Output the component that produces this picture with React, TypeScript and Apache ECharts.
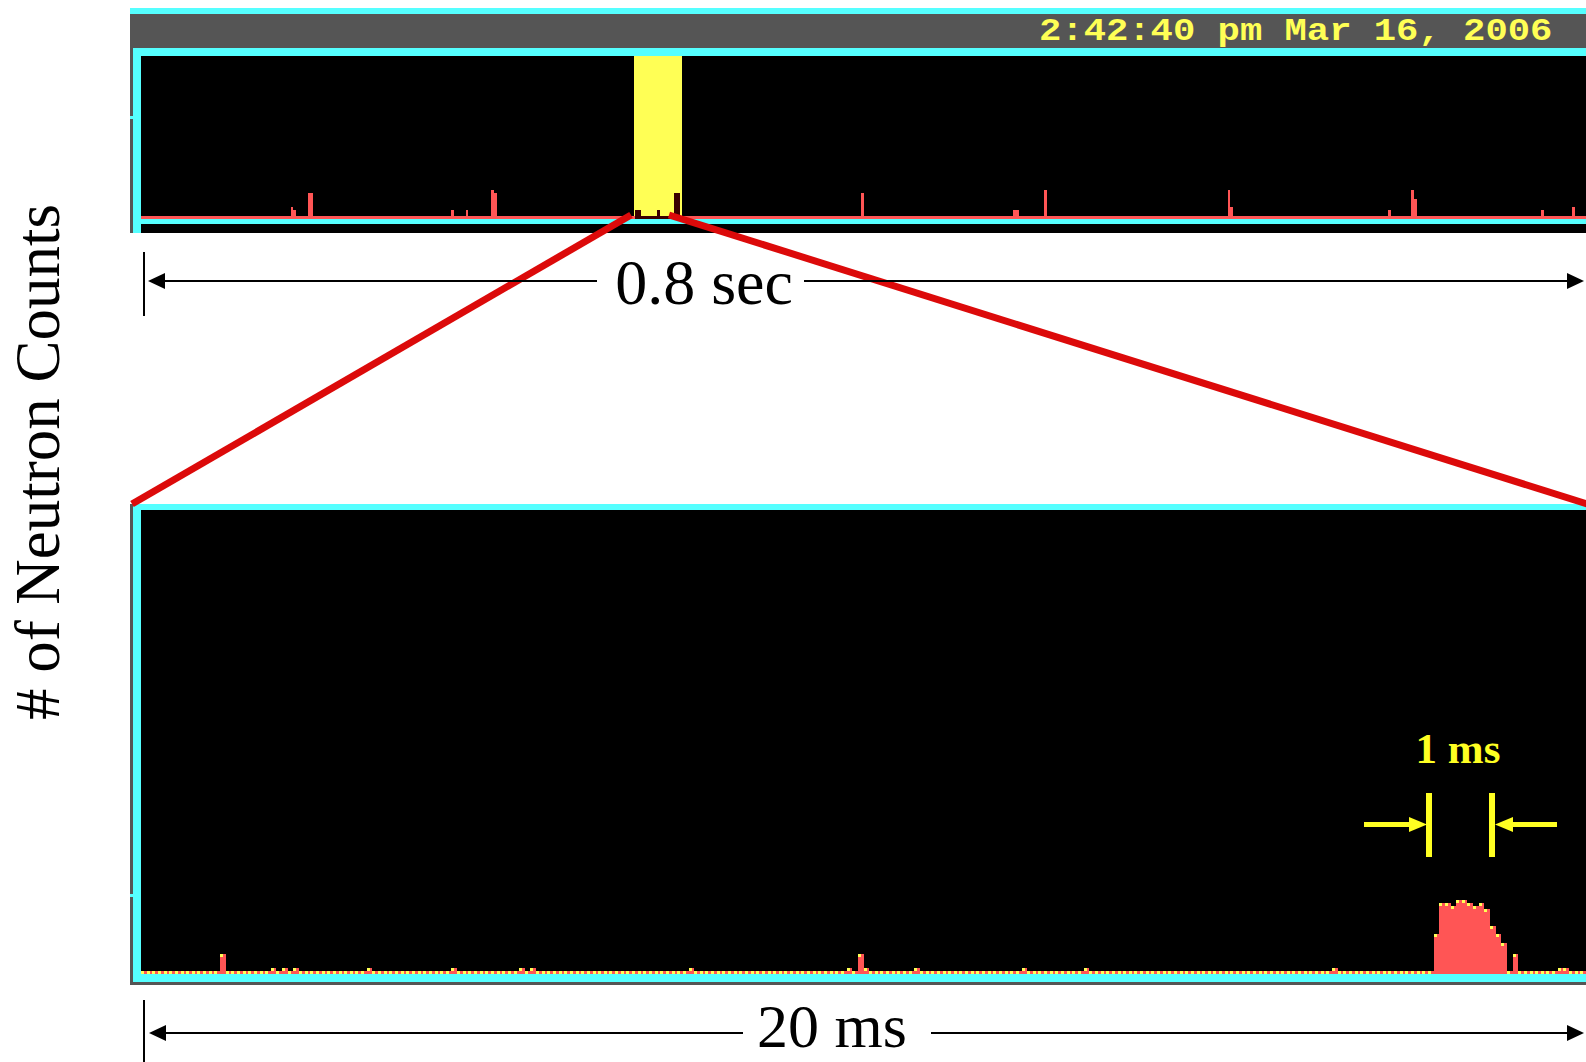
import React, { useEffect, useRef } from "react";
import * as echarts from "echarts";

// ---------------- data ----------------
const TOP_BINS = 512; // 0.8 s record
const BOTTOM_BINS = 256; // 20 ms record
const TOP_MAX = 55;
const BOTTOM_MAX = 163;

// [bin, counts] of the 0.8 s trace (all other bins read as zero)
const TOP_EVENTS: number[][] = [
  [53, 3], [54, 2], [59, 8], [60, 8], [110, 2], [115, 2], [124, 9], [125, 8],
  [175, 2], [176, 2], [183, 2], [189, 8], [190, 8], [255, 8], [309, 2], [310, 2],
  [320, 9], [385, 9], [386, 3], [442, 2], [450, 9], [451, 6], [496, 2], [507, 3],
];
// bins of the 0.8 s trace that are expanded below
const ZOOM_WINDOW: number[] = [174.7, 191.7];

// [bin, counts] of the 20 ms trace (all other bins read as zero)
const BOTTOM_EVENTS: number[][] = [
  [14, 6], [23, 1], [25, 1], [27, 1], [40, 1], [55, 1], [67, 1], [69, 1], [97, 1],
  [125, 1], [127, 6], [128, 1], [137, 1], [156, 1], [167, 1], [211, 1],
  [229, 13], [230, 24], [231, 24], [232, 23], [233, 25], [234, 25], [235, 24],
  [236, 23], [237, 24], [238, 22], [239, 16], [240, 13], [241, 10], [242, 0], [243, 6],
  [251, 1], [252, 1],
];

const HEADER_TEXT = "2:42:40 pm Mar 16, 2006";
const Y_LABEL = "# of Neutron Counts";
const TOP_SPAN = "0.8 sec";
const BOTTOM_SPAN = "20 ms";
const PULSE_LABEL = "1 ms";

function expand(n: number, events: number[][]): number[][] {
  const m = new Map<number, number>();
  events.forEach(([k, v]) => m.set(k, v));
  const out: number[][] = [];
  for (let k = 0; k < n; k++) out.push([k, m.get(k) ?? 0]);
  return out;
}

// ---------------- styles ----------------
const CYAN = "#55ffff";
const GRAY = "#555555";
const YELLOW = "#ffff55";
const RED = "#ff5555";
const DARK = "#3a0000";
const LINE_RED = "#dc0a0a";
const ANN_YELLOW = "#ffff22";

const rect = (x: number, y: number, w: number, h: number, fill: string, z = 10) => ({
  type: "rect",
  shape: { x, y, width: w, height: h },
  style: { fill },
  z,
  silent: true,
});
const poly = (pts: number[][], fill: string, z = 60) => ({
  type: "polygon",
  shape: { points: pts },
  style: { fill },
  z,
  silent: true,
});
const line = (x1: number, y1: number, x2: number, y2: number, stroke: string, w: number, z = 50) => ({
  type: "line",
  shape: { x1, y1, x2, y2 },
  style: { stroke, lineWidth: w },
  z,
  silent: true,
});
const text = (t: string, x: number, y: number, size: number, fill: string, family: string, extra: any = {}) => ({
  type: "text",
  x,
  y,
  z: 70,
  silent: true,
  ...extra,
  style: {
    text: t,
    fill,
    fontSize: size,
    fontFamily: family,
    align: "center",
    verticalAlign: "middle",
    ...(extra.style || {}),
  },
});

export default function App() {
  const ref = useRef<HTMLDivElement>(null);

  useEffect(() => {
    if (!ref.current) return;
    const chart = echarts.init(ref.current, null, { renderer: "svg" });

    const topData = expand(TOP_BINS, TOP_EVENTS);
    const bottomData = expand(BOTTOM_BINS, BOTTOM_EVENTS);

    const windowRender = (_p: any, api: any) => {
      const a = api.coord([api.value(0), TOP_MAX]);
      const b = api.coord([api.value(1), 0]);
      const x0 = Math.round(a[0]);
      const x1 = Math.round(b[0]);
      const y0 = Math.round(a[1]);
      const y1 = Math.round(b[1]);
      return { type: "rect", shape: { x: x0, y: y0, width: x1 - x0, height: y1 - y0 }, style: { fill: YELLOW } };
    };

    const topRender = (_p: any, api: any) => {
      const k = api.value(0);
      const v = api.value(1);
      const a = api.coord([k, v]);
      const b = api.coord([k + 1, -1]);
      const x0 = Math.round(a[0]);
      const x1 = Math.round(b[0]);
      const y0 = Math.round(a[1]);
      const y1 = Math.round(b[1]);
      const inWin = k + 0.5 >= ZOOM_WINDOW[0] && k + 0.5 <= ZOOM_WINDOW[1];
      return {
        type: "rect",
        shape: { x: x0, y: y0, width: x1 - x0, height: y1 - y0 },
        style: { fill: inWin ? DARK : RED },
      };
    };

    const bottomRender = (_p: any, api: any) => {
      const k = api.value(0);
      const v = api.value(1);
      const a = api.coord([k, v]);
      const b = api.coord([k + 1, -1]);
      const z0 = api.coord([k, 0]);
      const x0 = Math.round(a[0]);
      const x1 = Math.round(b[0]);
      const y0 = Math.round(a[1]);
      const y1 = Math.round(b[1]);
      const unit = Math.max(1, Math.round(b[1] - z0[1]));
      const w = x1 - x0;
      return {
        type: "group",
        children: [
          { type: "rect", shape: { x: x0, y: y0, width: w, height: y1 - y0 }, style: { fill: RED } },
          { type: "rect", shape: { x: x0, y: y0, width: Math.ceil(w / 2), height: unit }, style: { fill: YELLOW } },
        ],
      };
    };

    const graphics: any[] = [
      // header bar
      rect(130, 8, 1470, 6, CYAN),
      rect(130, 14, 1470, 34, GRAY),
      {
        type: "text",
        x: 1039,
        y: 31,
        scaleX: 1.2,
        z: 70,
        silent: true,
        style: {
          text: HEADER_TEXT,
          fill: YELLOW,
          fontSize: 31,
          fontWeight: "bold",
          fontFamily: "'Liberation Mono', 'DejaVu Sans Mono', monospace",
          align: "left",
          verticalAlign: "middle",
        },
      },
      // top panel frame
      rect(130, 48, 3, 185, GRAY),
      rect(130, 116, 3, 3, CYAN, 11),
      rect(133, 48, 1470, 8, CYAN),
      rect(133, 48, 8, 185, CYAN),
      rect(133, 219, 1470, 5, CYAN),
      rect(141, 224, 1470, 9, "#000000"),
      // bottom panel frame
      rect(130, 504, 3, 481, GRAY),
      rect(130, 894, 3, 3, CYAN, 11),
      rect(133, 504, 1470, 6, CYAN),
      rect(133, 504, 8, 478, CYAN),
      rect(133, 974, 1470, 8, CYAN),
      rect(130, 982, 1470, 3, GRAY),
      // zoom lines
      line(631, 215, 132, 504, LINE_RED, 7),
      line(669, 215, 1600, 508, LINE_RED, 7),
      // 0.8 sec span arrow
      rect(143, 252, 2, 64, "#000000", 60),
      rect(160, 280, 437, 2, "#000000", 60),
      rect(804, 280, 766, 2, "#000000", 60),
      poly([[148, 281], [165, 273], [165, 289]], "#000000"),
      poly([[1584, 281], [1567, 273], [1567, 289]], "#000000"),
      text(TOP_SPAN, 704, 282, 64, "#000000", "'Liberation Serif', 'Times New Roman', serif"),
      // 20 ms span arrow
      rect(143, 1000, 2, 62, "#000000", 60),
      rect(160, 1032, 583, 2, "#000000", 60),
      rect(931, 1032, 640, 2, "#000000", 60),
      poly([[149, 1033], [166, 1025], [166, 1041]], "#000000"),
      poly([[1584, 1033], [1567, 1025], [1567, 1041]], "#000000"),
      text(BOTTOM_SPAN, 832, 1026, 62, "#000000", "'Liberation Serif', 'Times New Roman', serif"),
      // y label
      text(Y_LABEL, 38, 462, 63, "#000000", "'Liberation Serif', 'Times New Roman', serif", {
        rotation: Math.PI / 2,
      }),
      // 1 ms annotation
      text(PULSE_LABEL, 1458, 748, 43, ANN_YELLOW, "'Liberation Serif', 'Times New Roman', serif", {
        style: { fontWeight: "bold" },
      }),
      rect(1364, 822, 48, 5, ANN_YELLOW, 60),
      poly([[1409, 817], [1427, 824.5], [1409, 832]], ANN_YELLOW),
      rect(1426, 793, 6, 64, ANN_YELLOW, 60),
      rect(1489, 793, 6, 64, ANN_YELLOW, 60),
      poly([[1513, 817], [1495, 824.5], [1513, 832]], ANN_YELLOW),
      rect(1511, 822, 46, 5, ANN_YELLOW, 60),
    ];

    const option: any = {
      animation: false,
      backgroundColor: "#ffffff",
      grid: [
        { left: 141, top: 56, width: 1448, height: 163, show: true, backgroundColor: "#000000", borderWidth: 0 },
        { left: 141, top: 510, width: 1448, height: 464, show: true, backgroundColor: "#000000", borderWidth: 0 },
      ],
      xAxis: [
        { type: "value", gridIndex: 0, min: 0, max: TOP_BINS, show: false },
        { type: "value", gridIndex: 1, min: 0, max: BOTTOM_BINS, show: false },
      ],
      yAxis: [
        { type: "value", gridIndex: 0, min: -1, max: TOP_MAX, show: false },
        { type: "value", gridIndex: 1, min: -1, max: BOTTOM_MAX, show: false },
      ],
      series: [
        {
          type: "custom",
          name: "zoom window",
          xAxisIndex: 0,
          yAxisIndex: 0,
          data: [ZOOM_WINDOW],
          renderItem: windowRender,
          z: 1,
          silent: true,
        },
        {
          type: "custom",
          name: "0.8 sec",
          xAxisIndex: 0,
          yAxisIndex: 0,
          data: topData,
          renderItem: topRender,
          z: 2,
          silent: true,
        },
        {
          type: "custom",
          name: "20 ms",
          xAxisIndex: 1,
          yAxisIndex: 1,
          data: bottomData,
          renderItem: bottomRender,
          z: 2,
          silent: true,
        },
      ],
      graphic: { elements: graphics },
    };

    chart.setOption(option);
    return () => chart.dispose();
  }, []);

  return (
    <div
      ref={ref}
      style={{ position: "absolute", left: 0, top: 0, width: 1586, height: 1062, background: "#fff" }}
    />
  );
}
